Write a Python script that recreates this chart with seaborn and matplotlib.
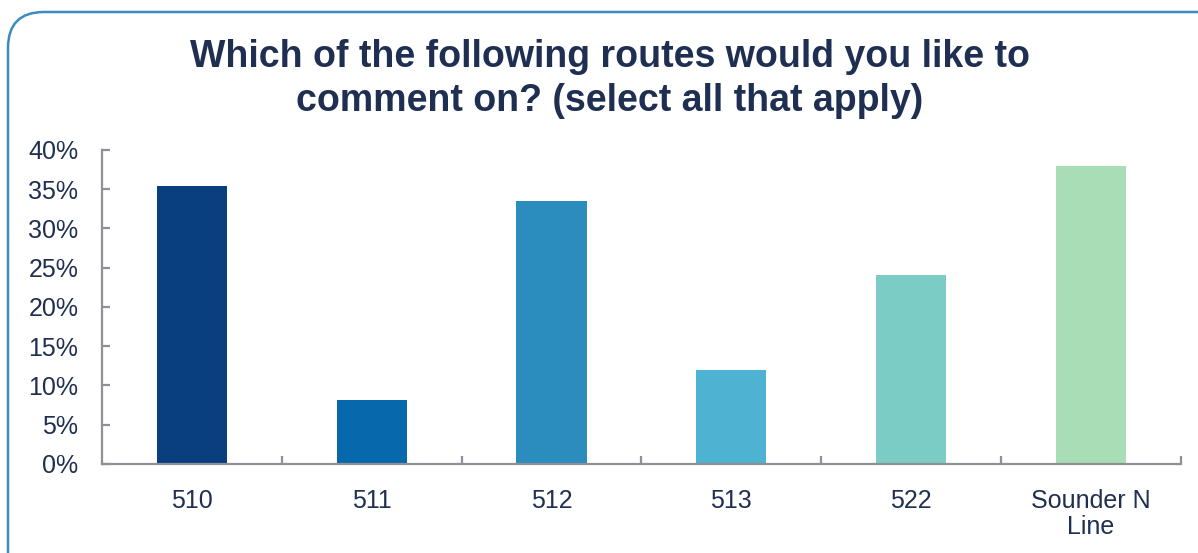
import matplotlib
matplotlib.use("Agg")
import matplotlib.pyplot as plt
from matplotlib.patches import FancyBboxPatch
from matplotlib.ticker import PercentFormatter, FixedLocator
import seaborn as sns
import pandas as pd

# Survey results
routes = ["510", "511", "512", "513", "522", "Sounder N\nLine"]
shares = [35.4, 8.2, 33.5, 12.0, 24.1, 38.0]
bar_colors = ["#0a3f7f", "#0868ac", "#2b8cbe", "#4eb3d3", "#7bccc4", "#a8ddb5"]

title = "Which of the following routes would you like to\ncomment on? (select all that apply)"
text_color = "#1f2f52"
axis_color = "#8e9097"

sns.set_style("white")
plt.rcParams["font.family"] = ["Liberation Sans", "DejaVu Sans"]

df = pd.DataFrame({"route": routes, "share": shares})

fig = plt.figure(figsize=(11.98, 5.53), dpi=100)
ax = fig.add_axes([0.0851, 0.161, 0.9007, 0.5678])

sns.barplot(data=df, x="route", y="share", hue="route", palette=bar_colors,
            legend=False, width=0.39, saturation=1, linewidth=0, ax=ax)

ax.set_ylim(0, 40)
ax.set_xlim(-0.5, len(routes) - 0.5)
ax.yaxis.set_major_locator(FixedLocator(range(0, 41, 5)))
ax.yaxis.set_major_formatter(PercentFormatter(decimals=0))
ax.set_xlabel("")
ax.set_ylabel("")

for side in ["top", "right"]:
    ax.spines[side].set_visible(False)
for side in ["left", "bottom"]:
    ax.spines[side].set_color(axis_color)
    ax.spines[side].set_linewidth(1.6)

ax.tick_params(axis="y", direction="in", length=6, width=1.6, color=axis_color,
               labelsize=18, labelcolor=text_color, pad=17, left=True)
ax.tick_params(axis="x", which="major", length=0, labelsize=18,
               labelcolor=text_color, pad=18)
# x ticks sit between categories
ax.set_xticks([i + 0.5 for i in range(len(routes))], minor=True)
ax.tick_params(axis="x", which="minor", direction="in", length=6, width=1.6,
               color=axis_color, bottom=True)
for lbl in ax.get_xticklabels():
    lbl.set_linespacing(1.1)
    lbl.set_verticalalignment("top")

fig.text(0.509, 0.93, title, ha="center", va="top", fontsize=27,
         fontweight="bold", color=text_color, linespacing=1.3)

# rounded border around the chart
border = FancyBboxPatch((8 / 1198, -40 / 553), 1230 / 1198, 581 / 553,
                        boxstyle="round,pad=0,rounding_size=0.03",
                        transform=fig.transFigure, fill=False,
                        edgecolor="#3b8bbd", linewidth=1.8, clip_on=False,
                        mutation_aspect=1198 / 553)
fig.patches.append(border)

fig.savefig("out.png", dpi=100)
